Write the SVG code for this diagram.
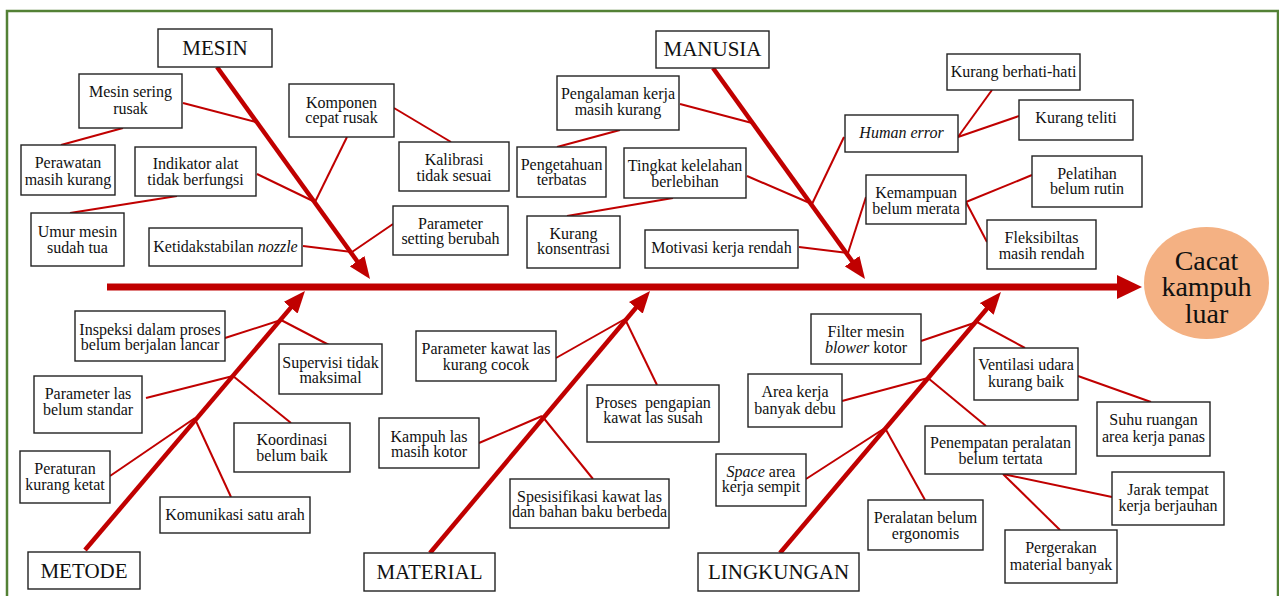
<svg xmlns="http://www.w3.org/2000/svg" width="1279" height="596" viewBox="0 0 1279 596">
<style>
.box{fill:#fff;stroke:#222;stroke-width:1.4}
.t{font-family:"Liberation Serif","Times New Roman",serif;font-size:16px;fill:#111;text-anchor:middle}
.cat{font-family:"Liberation Serif","Times New Roman",serif;font-size:21px;fill:#111;text-anchor:middle}
.bone{stroke:#c00000;stroke-width:4.5;fill:none}
.sub{stroke:#c00000;stroke-width:2;fill:none}
</style>
<defs>
<marker id="ah" viewBox="0 0 22 18" refX="10" refY="9" markerWidth="22" markerHeight="18" markerUnits="userSpaceOnUse" orient="auto"><path d="M0,0 L22,9 L0,18 z" fill="#c00000"/></marker>
</defs>
<rect x="0" y="0" width="1279" height="596" fill="#fff"/>
<rect x="7" y="11" width="1271" height="600" fill="none" stroke="#538135" stroke-width="2.5"/>

<g id="connectors">
<line x1="107" y1="287" x2="1120" y2="287" stroke="#c00000" stroke-width="7"/>
<polygon points="1117,275 1142,287 1117,299" fill="#c00000"/>
<line class="bone" x1="217" y1="67" x2="363" y2="269.3" marker-end="url(#ah)"/>
<line class="bone" x1="713" y1="68" x2="858" y2="269.3" marker-end="url(#ah)"/>
<line class="bone" x1="85" y1="550" x2="297.2" y2="300.1" marker-end="url(#ah)"/>
<line class="bone" x1="430" y1="553" x2="642.3" y2="300.2" marker-end="url(#ah)"/>
<line class="bone" x1="780" y1="553" x2="993.2" y2="301.2" marker-end="url(#ah)"/>
<!-- mesin -->
<line class="sub" x1="183" y1="103" x2="256" y2="122"/>
<line class="sub" x1="61" y1="145" x2="123" y2="128"/>
<line class="sub" x1="257" y1="174" x2="315" y2="202"/>
<line class="sub" x1="347" y1="137" x2="315" y2="202"/>
<line class="sub" x1="70" y1="213" x2="177" y2="196"/>
<line class="sub" x1="303" y1="246" x2="352" y2="252"/>
<line class="sub" x1="393" y1="224" x2="352" y2="252"/>
<line class="sub" x1="394" y1="108" x2="451" y2="142"/>
<!-- manusia -->
<line class="sub" x1="680" y1="104" x2="752" y2="123"/>
<line class="sub" x1="557" y1="147" x2="620" y2="130"/>
<line class="sub" x1="747" y1="176" x2="812" y2="204"/>
<line class="sub" x1="812" y1="204" x2="844" y2="137"/>
<line class="sub" x1="567" y1="216" x2="673" y2="198"/>
<line class="sub" x1="799" y1="247" x2="848" y2="253"/>
<line class="sub" x1="866" y1="197" x2="848" y2="253"/>
<line class="sub" x1="958" y1="137" x2="992" y2="90"/>
<line class="sub" x1="958" y1="137" x2="1019" y2="116"/>
<line class="sub" x1="966" y1="202" x2="1032" y2="175"/>
<line class="sub" x1="966" y1="202" x2="987" y2="242"/>
<!-- metode -->
<line class="sub" x1="225" y1="338" x2="281" y2="320"/>
<line class="sub" x1="281" y1="320" x2="329" y2="345"/>
<line class="sub" x1="146" y1="398" x2="233" y2="376"/>
<line class="sub" x1="233" y1="376" x2="291" y2="423"/>
<line class="sub" x1="110" y1="476" x2="195" y2="418"/>
<line class="sub" x1="195" y1="419" x2="231" y2="497"/>
<!-- material -->
<line class="sub" x1="556" y1="358" x2="625" y2="319"/>
<line class="sub" x1="625" y1="319" x2="657" y2="385"/>
<line class="sub" x1="479" y1="443" x2="542" y2="416"/>
<line class="sub" x1="542" y1="416" x2="593" y2="479"/>
<!-- lingkungan -->
<line class="sub" x1="921" y1="341" x2="977" y2="322"/>
<line class="sub" x1="977" y1="322" x2="1025" y2="348"/>
<line class="sub" x1="842" y1="401" x2="928" y2="378"/>
<line class="sub" x1="928" y1="378" x2="986" y2="426"/>
<line class="sub" x1="806" y1="479" x2="885" y2="428"/>
<line class="sub" x1="885" y1="428" x2="925" y2="500"/>
<line class="sub" x1="1078" y1="376" x2="1151" y2="402"/>
<line class="sub" x1="1003" y1="474" x2="1112" y2="497"/>
<line class="sub" x1="1003" y1="474" x2="1060" y2="530"/>
</g>

<g id="effect">
<ellipse cx="1206.5" cy="283" rx="62.5" ry="56" fill="#f4b183"/>
<text font-family="'Liberation Serif','Times New Roman',serif" font-size="28" fill="#111" text-anchor="middle"><tspan x="1206.5" y="270">Cacat</tspan><tspan x="1206.5" y="296">kampuh</tspan><tspan x="1206.5" y="323">luar</tspan></text>
</g>

<g id="mesin"><rect class="box" x="158" y="29" width="114" height="38"/><text class="cat" x="215" y="55">MESIN</text></g>
<g id="manusia"><rect class="box" x="656" y="31" width="113" height="37"/><text class="cat" x="712.5" y="56">MANUSIA</text></g>
<g id="metode"><rect class="box" x="28" y="552" width="112" height="37"/><text class="cat" x="84" y="578">METODE</text></g>
<g id="material"><rect class="box" x="364" y="553" width="131" height="38"/><text class="cat" x="429.5" y="579">MATERIAL</text></g>
<g id="lingkungan"><rect class="box" x="698" y="553" width="161" height="38"/><text class="cat" x="778.5" y="579">LINGKUNGAN</text></g>

<g id="mesin-sering-rusak"><rect class="box" x="79" y="74" width="103" height="54"/><text class="t"><tspan x="130.5" y="97">Mesin sering</tspan><tspan x="130.5" y="114">rusak</tspan></text></g>
<g id="perawatan"><rect class="box" x="21" y="145" width="94" height="50"/><text class="t"><tspan x="68" y="168">Perawatan</tspan><tspan x="68" y="185">masih kurang</tspan></text></g>
<g id="indikator"><rect class="box" x="135" y="147" width="121" height="49"/><text class="t"><tspan x="195.5" y="169">Indikator alat</tspan><tspan x="195.5" y="185">tidak berfungsi</tspan></text></g>
<g id="umur"><rect class="box" x="31" y="213" width="93" height="53"/><text class="t"><tspan x="77.5" y="237">Umur mesin</tspan><tspan x="77.5" y="253">sudah tua</tspan></text></g>
<g id="nozzle"><rect class="box" x="149" y="228" width="153" height="38"/><text class="t" x="225.5" y="252">Ketidakstabilan <tspan font-style="italic">nozzle</tspan></text></g>
<g id="komponen"><rect class="box" x="289" y="84" width="105" height="53"/><text class="t"><tspan x="341.5" y="108">Komponen</tspan><tspan x="341.5" y="123">cepat rusak</tspan></text></g>
<g id="kalibrasi"><rect class="box" x="399" y="142" width="110" height="49"/><text class="t"><tspan x="454" y="165">Kalibrasi</tspan><tspan x="454" y="181">tidak sesuai</tspan></text></g>
<g id="parameter-setting"><rect class="box" x="393" y="206" width="115" height="49"/><text class="t"><tspan x="450.5" y="229">Parameter</tspan><tspan x="450.5" y="244">setting berubah</tspan></text></g>

<g id="pengalaman"><rect class="box" x="557" y="76" width="122" height="54"/><text class="t"><tspan x="618" y="99">Pengalaman kerja</tspan><tspan x="618" y="115">masih kurang</tspan></text></g>
<g id="pengetahuan"><rect class="box" x="517" y="147" width="89" height="50"/><text class="t"><tspan x="561.5" y="170">Pengetahuan</tspan><tspan x="561.5" y="185">terbatas</tspan></text></g>
<g id="kelelahan"><rect class="box" x="624" y="148" width="122" height="50"/><text class="t"><tspan x="685" y="171">Tingkat kelelahan</tspan><tspan x="685" y="187">berlebihan</tspan></text></g>
<g id="konsentrasi"><rect class="box" x="527" y="216" width="93" height="52"/><text class="t"><tspan x="573.5" y="239">Kurang</tspan><tspan x="573.5" y="254">konsentrasi</tspan></text></g>
<g id="motivasi"><rect class="box" x="645" y="230" width="153" height="38"/><text class="t" x="721.5" y="253">Motivasi kerja rendah</text></g>
<g id="berhati-hati"><rect class="box" x="947" y="54" width="133" height="36"/><text class="t" x="1013.5" y="77">Kurang berhati-hati</text></g>
<g id="teliti"><rect class="box" x="1019" y="100" width="114" height="40"/><text class="t" x="1076" y="123">Kurang teliti</text></g>
<g id="human-error"><rect class="box" x="845" y="115" width="113" height="37"/><text class="t" x="901.5" y="138" font-style="italic">Human error</text></g>
<g id="kemampuan"><rect class="box" x="866" y="175" width="100" height="49"/><text class="t"><tspan x="916" y="198">Kemampuan</tspan><tspan x="916" y="214">belum merata</tspan></text></g>
<g id="pelatihan"><rect class="box" x="1032" y="156" width="110" height="51"/><text class="t"><tspan x="1087" y="179">Pelatihan</tspan><tspan x="1087" y="194">belum rutin</tspan></text></g>
<g id="fleksibiltas"><rect class="box" x="987" y="220" width="109" height="49"/><text class="t"><tspan x="1041.5" y="243">Fleksibiltas</tspan><tspan x="1041.5" y="259">masih rendah</tspan></text></g>

<g id="inspeksi"><rect class="box" x="75" y="311" width="150" height="50"/><text class="t"><tspan x="150" y="335">Inspeksi dalam proses</tspan><tspan x="150" y="350">belum berjalan lancar</tspan></text></g>
<g id="supervisi"><rect class="box" x="279" y="344" width="103" height="50"/><text class="t"><tspan x="330.5" y="368">Supervisi tidak</tspan><tspan x="330.5" y="383">maksimal</tspan></text></g>
<g id="parameter-las"><rect class="box" x="34" y="376" width="108" height="57"/><text class="t"><tspan x="88" y="399">Parameter las</tspan><tspan x="88" y="415">belum standar</tspan></text></g>
<g id="koordinasi"><rect class="box" x="234" y="423" width="116" height="49"/><text class="t"><tspan x="292" y="445">Koordinasi</tspan><tspan x="292" y="461">belum baik</tspan></text></g>
<g id="peraturan"><rect class="box" x="20" y="451" width="90" height="52"/><text class="t"><tspan x="65" y="474">Peraturan</tspan><tspan x="65" y="490">kurang ketat</tspan></text></g>
<g id="komunikasi"><rect class="box" x="160" y="497" width="150" height="36"/><text class="t" x="235" y="520">Komunikasi satu arah</text></g>

<g id="parameter-kawat"><rect class="box" x="416" y="331" width="140" height="50"/><text class="t"><tspan x="486" y="354">Parameter kawat las</tspan><tspan x="486" y="370">kurang cocok</tspan></text></g>
<g id="pengapian"><rect class="box" x="587" y="385" width="132" height="57"/><text class="t" xml:space="preserve"><tspan x="653" y="408">Proses  pengapian</tspan><tspan x="653" y="423">kawat las susah</tspan></text></g>
<g id="kampuh-kotor"><rect class="box" x="379" y="418" width="100" height="50"/><text class="t"><tspan x="429" y="442">Kampuh las</tspan><tspan x="429" y="457">masih kotor</tspan></text></g>
<g id="spesifikasi"><rect class="box" x="510" y="479" width="159" height="49"/><text class="t" font-size="15"><tspan x="589.5" y="502">Spesisifikasi kawat las</tspan><tspan x="589.5" y="517">dan bahan baku berbeda</tspan></text></g>

<g id="filter"><rect class="box" x="811" y="314" width="110" height="50"/><text class="t"><tspan x="866" y="337">Filter mesin</tspan><tspan x="866" y="353"><tspan font-style="italic">blower</tspan> kotor</tspan></text></g>
<g id="ventilasi"><rect class="box" x="974" y="348" width="104" height="52"/><text class="t"><tspan x="1026" y="370">Ventilasi udara</tspan><tspan x="1026" y="387">kurang baik</tspan></text></g>
<g id="area-debu"><rect class="box" x="748" y="374" width="94" height="53"/><text class="t"><tspan x="795" y="397">Area kerja</tspan><tspan x="795" y="414">banyak debu</tspan></text></g>
<g id="suhu"><rect class="box" x="1097" y="402" width="113" height="54"/><text class="t"><tspan x="1153.5" y="425">Suhu ruangan</tspan><tspan x="1153.5" y="442">area kerja panas</tspan></text></g>
<g id="penempatan"><rect class="box" x="925" y="426" width="151" height="48"/><text class="t"><tspan x="1000.5" y="448">Penempatan peralatan</tspan><tspan x="1000.5" y="464">belum tertata</tspan></text></g>
<g id="space"><rect class="box" x="716" y="454" width="90" height="52"/><text class="t"><tspan x="761" y="477"><tspan font-style="italic">Space</tspan> area</tspan><tspan x="761" y="492">kerja sempit</tspan></text></g>
<g id="jarak"><rect class="box" x="1112" y="472" width="112" height="53"/><text class="t"><tspan x="1168" y="495">Jarak tempat</tspan><tspan x="1168" y="511">kerja berjauhan</tspan></text></g>
<g id="ergonomis"><rect class="box" x="868" y="500" width="115" height="50"/><text class="t"><tspan x="925.5" y="523">Peralatan belum</tspan><tspan x="925.5" y="539">ergonomis</tspan></text></g>
<g id="pergerakan"><rect class="box" x="1005" y="530" width="112" height="53"/><text class="t"><tspan x="1061" y="553">Pergerakan</tspan><tspan x="1061" y="570">material banyak</tspan></text></g>
</svg>
